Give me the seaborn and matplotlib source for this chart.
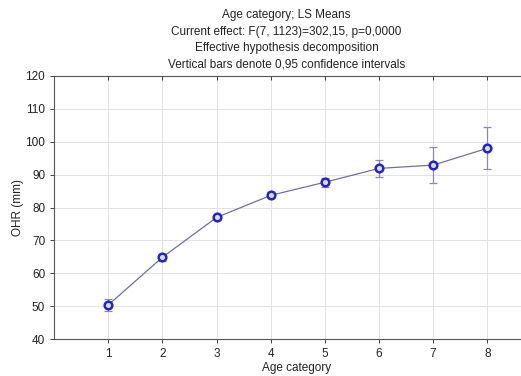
import matplotlib
matplotlib.use("Agg")
import matplotlib.pyplot as plt
import seaborn as sns
import pandas as pd

categories = [1, 2, 3, 4, 5, 6, 7, 8]
means = [50.4, 64.9, 77.0, 83.7, 87.7, 91.9, 92.9, 98.0]
ci_low = [48.6, 63.9, 76.2, 82.8, 86.3, 89.2, 87.5, 91.6]
ci_high = [52.1, 65.9, 77.8, 84.6, 89.1, 94.6, 98.5, 104.6]
yticks = [40, 50, 60, 70, 80, 90, 100, 110, 120]

sns.set_theme(style="white")
plt.rcParams['font.family'] = ['Liberation Sans', 'DejaVu Sans']

df = pd.DataFrame({"cat": categories, "mean": means})

fig = plt.figure(figsize=(5.21, 3.76), dpi=100)
ax = fig.add_axes([0.104, 0.098, 0.93, 0.70])

ax.grid(True, color="#e2e2e2", linewidth=0.7)
ax.set_axisbelow(True)

err_lo = [m - l for m, l in zip(means, ci_low)]
err_hi = [h - m for m, h in zip(means, ci_high)]
ax.errorbar(categories, means, yerr=[err_lo, err_hi], fmt="none",
            ecolor="#8a8aa8", elinewidth=0.9, capsize=3, capthick=0.9, zorder=2)

sns.lineplot(data=df, x="cat", y="mean", ax=ax, color="#7070a0", linewidth=0.9,
             marker="o", markersize=5.5, markeredgewidth=1.8,
             markeredgecolor="#2424c8", markerfacecolor="#dcdcf6", zorder=3)

ax.set_xlim(0, 8.95)
ax.set_ylim(40, 120)
ax.set_xticks(categories)
ax.set_yticks(yticks)
ax.tick_params(axis="both", labelsize=8.5, colors="#222222", length=3, width=0.6)
ax.tick_params(axis="x", top=True, bottom=True, direction="out")
ax.tick_params(axis="y", left=True, direction="out")
for t in ax.xaxis.get_major_ticks():
    t.tick2line.set_marker(3)  # inward tick on top
for s in ["left", "bottom", "top"]:
    ax.spines[s].set_color("#555555")
    ax.spines[s].set_linewidth(0.8)
ax.spines["right"].set_visible(False)

ax.set_xlabel("Age category", fontsize=8.5, color="#222222", labelpad=1)
ax.set_ylabel("OHR (mm)", fontsize=8.5, color="#222222", labelpad=1)

fig.suptitle("Age category; LS Means\nCurrent effect: F(7, 1123)=302,15, p=0,0000\n"
             "Effective hypothesis decomposition\nVertical bars denote 0,95 confidence intervals",
             fontsize=8.5, color="#222222", x=0.55, y=0.975, linespacing=1.5)

fig.savefig("out.png", dpi=100)
